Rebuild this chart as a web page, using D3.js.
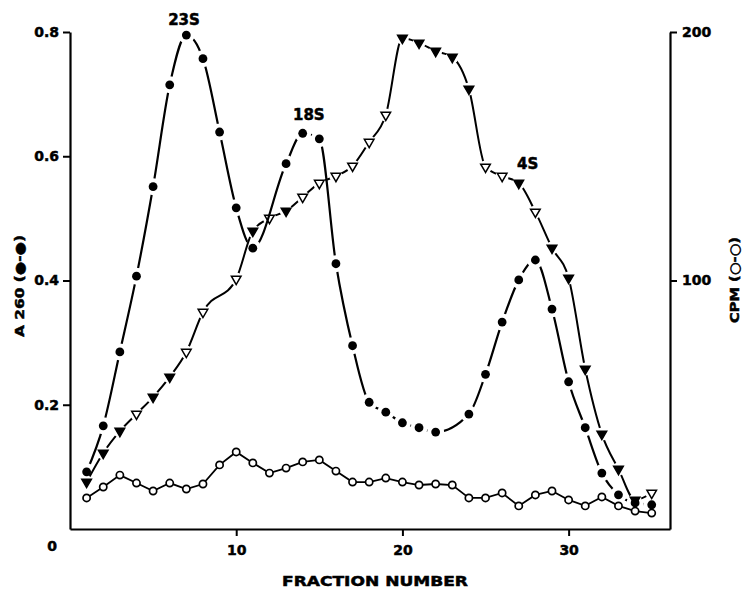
<!DOCTYPE html>
<html>
<head>
<meta charset="utf-8">
<script src="https://cdn.jsdelivr.net/npm/d3@7"></script>
<style>
  body { margin: 0; background: #fff; }
  svg { display: block; }
  text { font-family: "DejaVu Sans", sans-serif; font-weight: bold; fill: #000; stroke: #000; stroke-width: 0.5px; }
</style>
</head>
<body>
<svg id="chart" width="743" height="590"></svg>
<script>
// Absorbance at 260 nm (filled circles, left axis)
const a260Fractions = [1, 2, 3, 4, 5, 6, 7, 8, 9, 10, 11, 13, 14, 15, 16, 17, 18, 19, 20, 21, 22,
                       24, 25, 26, 27, 28, 29, 30, 31, 32, 33, 34, 35];
const a260Values = [0.092, 0.166, 0.285, 0.407, 0.551, 0.715, 0.795, 0.757, 0.639, 0.517, 0.452,
                    0.588, 0.637, 0.628, 0.427, 0.295, 0.204, 0.188, 0.171, 0.163, 0.156,
                    0.185, 0.249, 0.333, 0.401, 0.433, 0.354, 0.237, 0.163, 0.090, 0.055, 0.042, 0.039];

// Radioactivity, triangle series (right axis); filled flag per point
const triFractions = [1, 2, 3, 4, 5, 6, 7, 8, 10, 11, 12, 13, 14, 15, 16, 17, 18, 19, 20, 21, 22,
                      23, 24, 25, 26, 27, 28, 29, 30, 31, 32, 33, 34, 35];
const triValues = [18.9, 30.6, 39.4, 46.3, 53.1, 61.2, 71.2, 87.3, 100.6, 119.9, 125.1, 128.0, 133.6,
                   139.2, 142.0, 146.1, 155.7, 166.6, 197.6, 195.6, 192.3, 189.9, 177.1, 145.7,
                   142.0, 139.2, 127.6, 113.1, 101.0, 64.4, 38.2, 24.1, 11.7, 14.5];
const triFilled = [1, 1, 1, 0, 1, 1, 0, 0, 0, 1, 0, 1, 0, 0, 0, 0, 0, 0, 1, 1, 1,
                   1, 1, 0, 0, 1, 0, 1, 1, 1, 1, 1, 1, 0];

// Radioactivity, open circles (right axis)
const cpmFractions = d3.range(1, 36);
const cpmValues = [12.5, 16.9, 21.7, 18.5, 15.3, 18.5, 16.1, 18.1, 25.8, 31.0, 26.6, 22.5, 24.5,
                   27.0, 27.8, 23.3, 18.9, 18.9, 20.5, 18.9, 17.7, 18.1, 17.7, 12.5, 12.5, 14.5,
                   9.3, 13.7, 15.3, 11.7, 9.3, 12.9, 9.3, 7.2, 6.4];

// Axis ticks
const xTicks = [10, 20, 30];
const leftTicks = [0, 0.2, 0.4, 0.6, 0.8];
const leftTickLabels = ["0", "0.2", "0.4", "0.6", "0.8"];
const rightTicks = [100, 200];

// Peak annotations (fraction, A260 level of the label baseline)
const peakNames = ["23S", "18S", "4S"];
const peakFractions = [6.86, 14.37, 27.54];
const peakLevels = [0.812, 0.658, 0.579];

const W = 743, H = 590;
const svg = d3.select("#chart");
const defs = svg.append("defs");

const x = d3.scaleLinear().domain([0, 36.1]).range([70, 670]);
const y = d3.scaleLinear().domain([0, 0.8]).range([529, 32]);
const y2 = d3.scaleLinear().domain([0, 200]).range([529, 32]);

const a260 = a260Fractions.map((f, i) => ({ f, v: a260Values[i] }));
const tri = triFractions.map((f, i) => ({ f, v: triValues[i], filled: !!triFilled[i] }));
const cpm = cpmFractions.map((f, i) => ({ f, v: cpmValues[i] }));

// Axes
const axisStyle = g => {
  g.select(".domain").attr("stroke-width", 2.2);
  g.selectAll(".tick line").attr("stroke-width", 2);
  g.selectAll(".tick text").attr("font-size", 14).attr("font-family", null).attr("fill", null);
};

svg.append("g")
  .attr("transform", "translate(70,0)")
  .call(d3.axisLeft(y).tickValues(leftTicks).tickSize(7).tickSizeOuter(0).tickPadding(4)
    .tickFormat((d, i) => leftTickLabels[i]))
  .call(axisStyle)
  .call(g => {
    const zero = g.selectAll(".tick").filter(d => d === 0);
    zero.select("line").remove();
    zero.select("text").attr("transform", "translate(-2,17)");
  });

svg.append("g")
  .attr("transform", "translate(0,529)")
  .call(d3.axisBottom(x).tickValues(xTicks).tickSize(7).tickSizeOuter(0).tickPadding(9))
  .call(axisStyle);

svg.append("g")
  .attr("transform", "translate(670,0)")
  .call(d3.axisRight(y2).tickValues(rightTicks).tickSize(7).tickSizeOuter(0).tickPadding(5))
  .call(axisStyle);

// Axis titles
svg.append("text")
  .attr("x", 375).attr("y", 586)
  .attr("text-anchor", "middle").attr("font-size", 14)
  .attr("textLength", 186).attr("lengthAdjust", "spacingAndGlyphs")
  .text("FRACTION NUMBER");

svg.append("text")
  .attr("transform", "translate(19,286) rotate(-90)")
  .attr("text-anchor", "middle").attr("dy", "0.35em").attr("font-size", 13)
  .attr("textLength", 102).attr("lengthAdjust", "spacingAndGlyphs")
  .text("A 260 (●-●)");

svg.append("text")
  .attr("transform", "translate(734,280) rotate(-90)")
  .attr("text-anchor", "middle").attr("dy", "0.35em").attr("font-size", 13)
  .attr("textLength", 86).attr("lengthAdjust", "spacingAndGlyphs")
  .text("CPM (○-○)");

// Peak labels
svg.selectAll(".peak").data(peakNames).join("text")
  .attr("class", "peak")
  .attr("x", (d, i) => x(peakFractions[i]))
  .attr("y", (d, i) => y(peakLevels[i]))
  .attr("text-anchor", "middle").attr("font-size", 15)
  .text(d => d);

// Masks that open small gaps in a line around its own markers
function gapMask(id, pts, yScale, r) {
  const m = defs.append("mask").attr("id", id)
    .attr("maskUnits", "userSpaceOnUse")
    .attr("x", 0).attr("y", 0).attr("width", W).attr("height", H);
  m.append("rect").attr("width", W).attr("height", H).attr("fill", "white");
  m.selectAll("circle").data(pts).join("circle")
    .attr("cx", d => x(d.f)).attr("cy", d => yScale(d.v)).attr("r", r).attr("fill", "black");
}
gapMask("gap-a260", a260, y, 8.5);
gapMask("gap-tri", tri, y2, 6.5);

// Open circle series
svg.append("path")
  .datum(cpm)
  .attr("fill", "none").attr("stroke", "#000").attr("stroke-width", 1.8)
  .attr("d", d3.line().x(d => x(d.f)).y(d => y2(d.v)));

svg.append("g").selectAll("circle").data(cpm).join("circle")
  .attr("cx", d => x(d.f)).attr("cy", d => y2(d.v)).attr("r", 3.6)
  .attr("fill", "#fff").attr("stroke", "#000").attr("stroke-width", 1.7);

// Triangle series
svg.append("path")
  .datum(tri)
  .attr("fill", "none").attr("stroke", "#000").attr("stroke-width", 2)
  .attr("mask", "url(#gap-tri)")
  .attr("d", d3.line().x(d => x(d.f)).y(d => y2(d.v)).curve(d3.curveMonotoneX));

const triShape = d3.symbol(d3.symbolTriangle, 40);
svg.append("g").selectAll("path").data(tri).join("path")
  .attr("d", triShape)
  .attr("transform", d => `translate(${x(d.f)},${y2(d.v)}) rotate(180)`)
  .attr("fill", d => d.filled ? "#000" : "#fff")
  .attr("stroke", "#000").attr("stroke-width", 1.5);

// A260 series
svg.append("path")
  .datum(a260)
  .attr("fill", "none").attr("stroke", "#000").attr("stroke-width", 2.2)
  .attr("mask", "url(#gap-a260)")
  .attr("d", d3.line().x(d => x(d.f)).y(d => y(d.v)).curve(d3.curveMonotoneX));

svg.append("g").selectAll("circle").data(a260).join("circle")
  .attr("cx", d => x(d.f)).attr("cy", d => y(d.v)).attr("r", 4.4)
  .attr("fill", "#000");
</script>
</body>
</html>
